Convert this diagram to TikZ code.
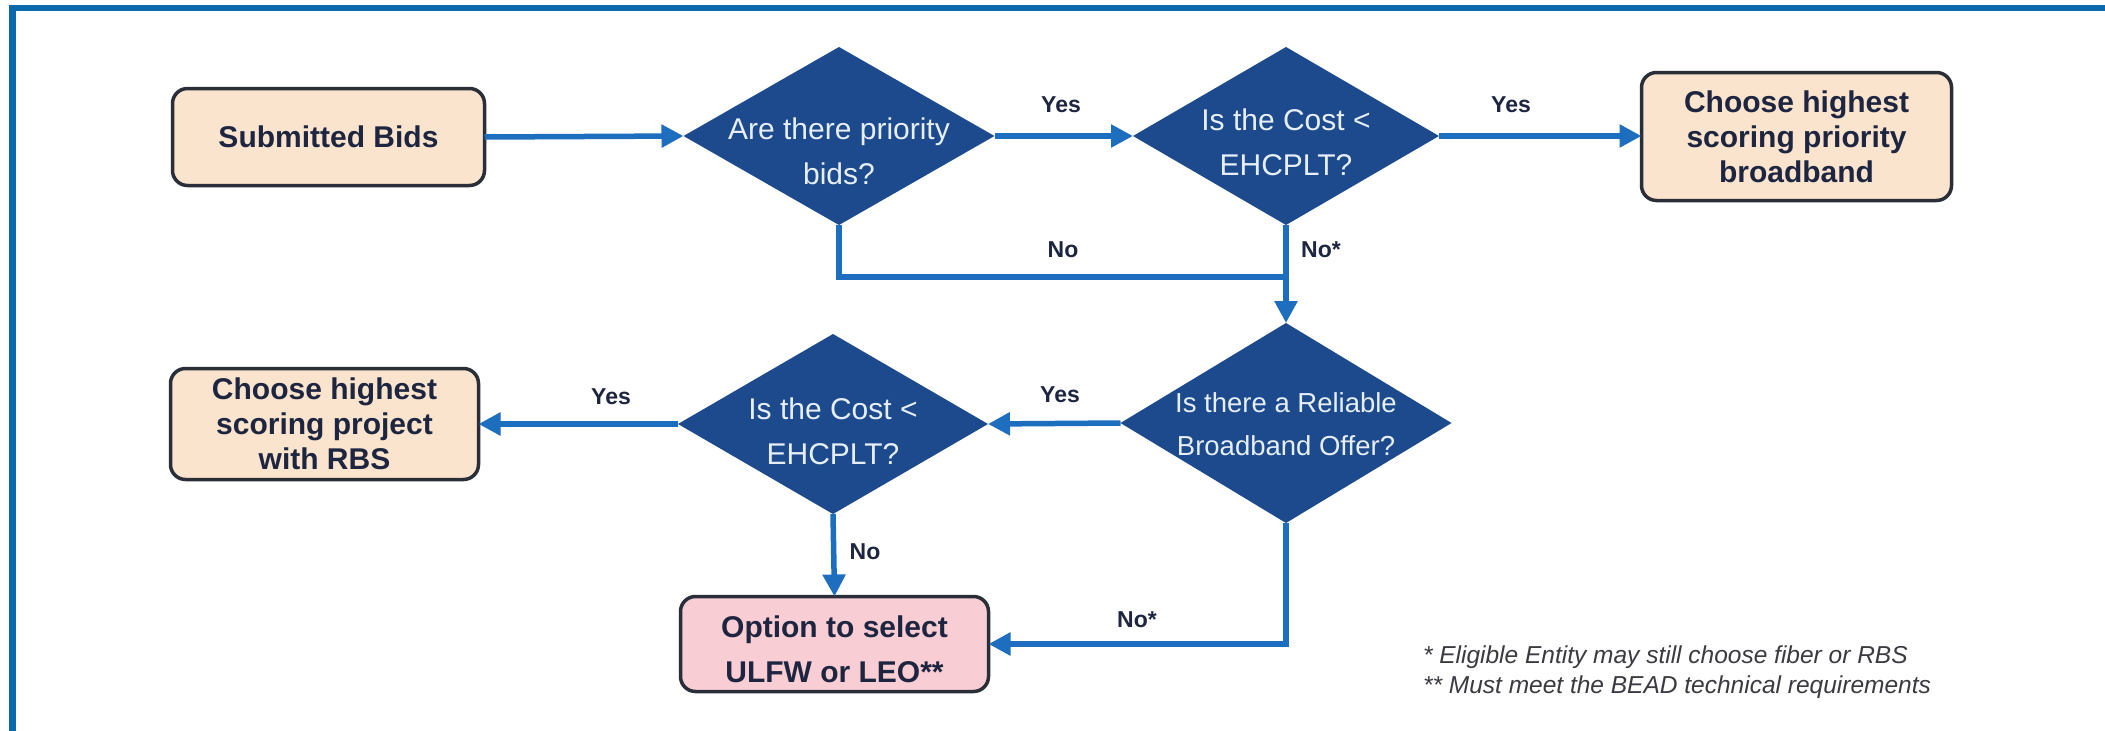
\documentclass[tikz,border=0pt]{standalone}
\usepackage{fontspec}
\setmainfont{Liberation Sans}
\usetikzlibrary{shapes.geometric,arrows.meta}
\definecolor{framec}{HTML}{0A69AC}
\definecolor{arrowc}{HTML}{1E6EC0}
\definecolor{diamc}{HTML}{1D4A8C}
\definecolor{diamtext}{HTML}{E6EEF8}
\definecolor{peach}{HTML}{FAE4CD}
\definecolor{pinkc}{HTML}{F8CDD3}
\definecolor{boxline}{HTML}{2A2E38}
\definecolor{boxtext}{HTML}{1E2540}
\definecolor{notec}{HTML}{3A3A40}
\begin{document}
\begin{tikzpicture}[x=1pt,y=-1pt,
  every node/.style={inner sep=0pt, outer sep=0pt},
  pbox/.style={draw=boxline, line width=3.5pt, rounded corners=15pt, fill=peach,
     text=boxtext, font=\bfseries\fontsize{30}{35}\selectfont, align=center},
  dec/.style={diamond, fill=diamc, draw=none},
  dtext/.style={text=diamtext, font=\fontsize{30}{45}\selectfont, align=center},
  lbl/.style={text=boxtext, font=\bfseries\fontsize{23}{28}\selectfont},
  note/.style={text=notec, font=\itshape\fontsize{24.5}{30}\selectfont},
  conn/.style={draw=arrowc, line width=5.5pt, -{Triangle[length=22pt,width=22pt]}},
  plain/.style={draw=arrowc, line width=5.5pt}]
\useasboundingbox (0,0) rectangle (2105,731);
\fill[white] (0,0) rectangle (2105,731);
\draw[framec, line width=6.5pt] (12.5,731) -- (12.5,8) -- (2105,8);

% nodes
\node[pbox, minimum width=312pt, minimum height=97pt] (bids) at (328.5,137) {Submitted Bids};
\node[dec, minimum width=311pt, minimum height=178pt] (d1) at (839,136) {};
\node[dtext] (t1) at (839,151) {Are there priority\\bids?};
\node[dec, minimum width=306pt, minimum height=178pt] (d2) at (1286,136) {};
\node[dtext] (t2) at (1286,142) {Is the Cost <\\EHCPLT?};
\node[pbox, minimum width=310pt, minimum height=128pt] (prio) at (1796.5,136.5) {Choose highest\\scoring priority\\broadband};
\node[dec, minimum width=331pt, minimum height=200pt] (d3) at (1286,423) {};
\node[dtext, font=\fontsize{27.5}{43}\selectfont] (t3) at (1286,424) {Is there a Reliable\\Broadband Offer?};
\node[dec, minimum width=310pt, minimum height=180pt] (d4) at (833,424) {};
\node[dtext] (t4) at (833,431) {Is the Cost <\\EHCPLT?};
\node[pbox, minimum width=308pt, minimum height=111pt] (rbs) at (324.5,424) {Choose highest\\scoring project\\with RBS};
\node[pbox, fill=pinkc, minimum width=308pt, minimum height=95pt] (opt) at (834.5,644) {};
\node[text=boxtext, font=\bfseries\fontsize{30}{45}\selectfont, align=center] (optt) at (834.5,649) {Option to select\\ULFW or LEO**};

% connectors
\coordinate (j1) at (1286,277);
\draw[conn] (bids.east) -- (d1.west);
\draw[conn] (d1.east) -- (d2.west);
\draw[conn] (d2.east) -- (d2.east -| prio.west);
\draw[plain] (d1.south) |- (j1);
\draw[conn] (d2.south) -- (d3.north);
\draw[conn] (d3.west) -- (d4.east);
\draw[conn] (d4.west) -- (d4.west -| rbs.east);
\draw[conn] (d4.south) -- (opt.north);
\draw[conn] (d3.south) |- (opt.east);

% labels
\node[lbl] (y1) at (1061,105) {Yes};
\node[lbl] (y2) at (1511,105) {Yes};
\node[lbl] (n1) at (1063,250) {No};
\node[lbl] (n2) at (1321,250) {No*};
\node[lbl] (y3) at (1060,395) {Yes};
\node[lbl] (y4) at (611,397) {Yes};
\node[lbl] (n3) at (865,552) {No};
\node[lbl] (n4) at (1137,620) {No*};

% footnotes
\node[note, anchor=base west] (f1) at (1423,663) {* Eligible Entity may still choose fiber or RBS};
\node[note, anchor=base west] (f2) at (1423,693) {** Must meet the BEAD technical requirements};
\end{tikzpicture}
\end{document}
